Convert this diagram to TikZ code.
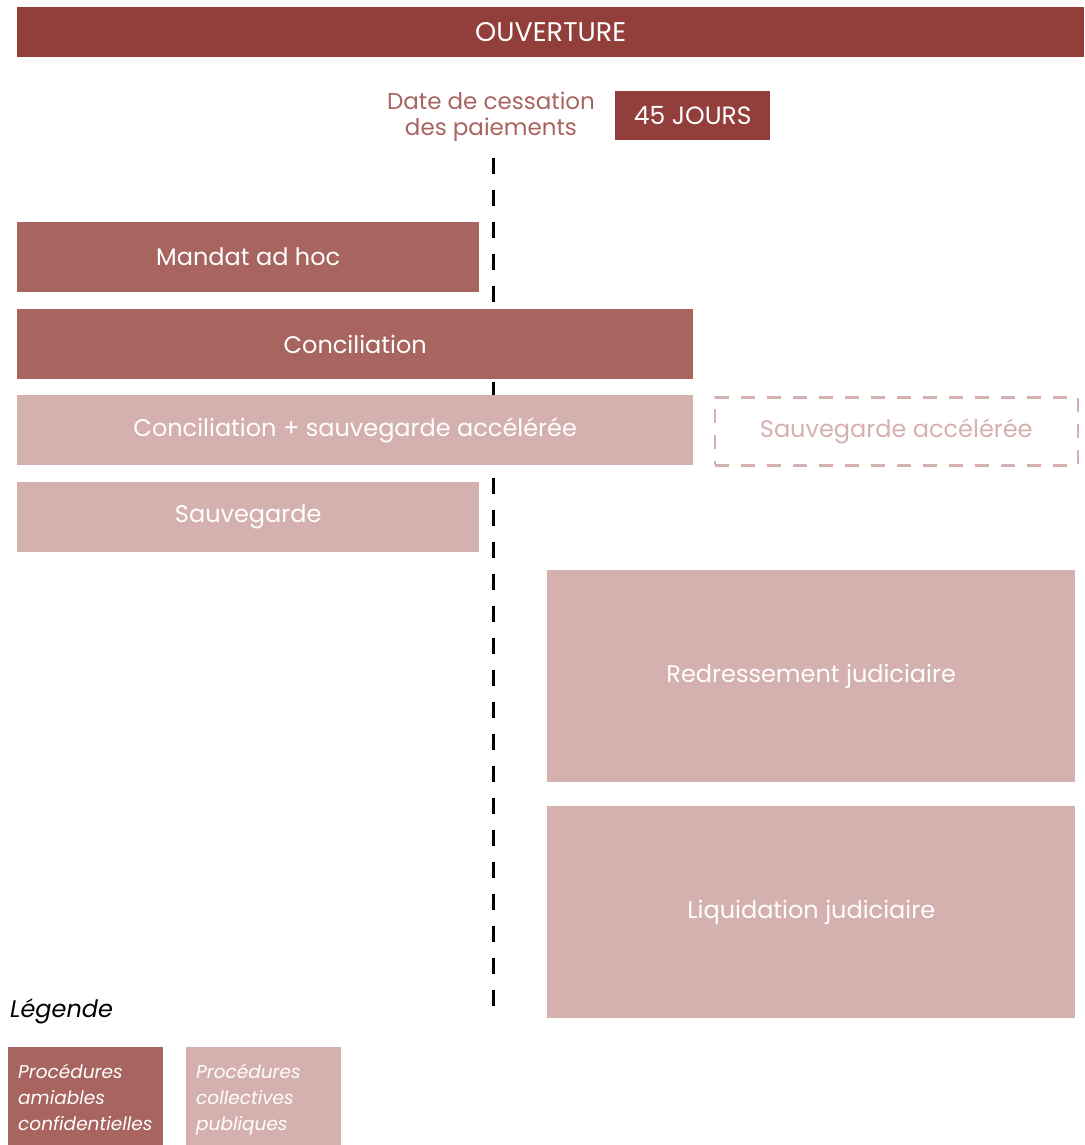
\documentclass[tikz,border=0pt]{standalone}
\usepackage{fontspec}
\setmainfont{Poppins}
\usepackage{tikz}
\definecolor{rougefonce}{HTML}{923F3C}
\definecolor{rougemoyen}{HTML}{A8645F}
\definecolor{rosepale}{HTML}{D4B0AF}
\tikzset{box/.style={anchor=north west,inner sep=0pt,text=white,font=\fontsize{24}{28}\selectfont},
	amiable/.style={box,fill=rougemoyen},
	collective/.style={box,fill=rosepale},
	legendbox/.style={anchor=north west,inner xsep=10pt,inner ysep=0pt,minimum width=155pt,minimum height=98pt,
		text=white,align=left,text width=135pt,font=\fontsize{18.5}{26}\selectfont\itshape,
		execute at begin node={\rule{0pt}{24pt}},execute at end node={\strut}},
	timeline/.style={line width=3pt,dash pattern=on 16pt off 16pt}}
\begin{document}
\begin{tikzpicture}[x=1pt,y=-1pt]
	\useasboundingbox (0,0) rectangle (1084,1145);
	% ligne de cessation des paiements
	\coordinate (top) at (493,158);
	\coordinate (bottom) at (493,1010);
	\draw[timeline] (top) -- (bottom);
	\node[box,fill=rougefonce,minimum width=1067pt,minimum height=50pt,font=\fontsize{27}{30}\selectfont] (ouverture) at (17,7) {OUVERTURE};
	\node[text=rougemoyen,align=center,font=\fontsize{23}{26}\selectfont] (cessation) at (491,117) {Date de cessation\\des paiements};
	\node[box,fill=rougefonce,minimum width=155pt,minimum height=49pt,font=\fontsize{25}{28}\selectfont] (jours) at (615,91) {45 JOURS};
	\node[amiable,minimum width=462pt,minimum height=70pt] (mandat) at (17,222) {Mandat ad hoc};
	\node[amiable,minimum width=676pt,minimum height=70pt] (conciliation) at (17,309) {Conciliation};
	\node[collective,minimum width=676pt,minimum height=70pt] (concsauv) at (17,395) {Conciliation + sauvegarde acc\'el\'er\'ee};
	\node[box,draw=rosepale,line width=2.5pt,dash pattern=on 14pt off 12pt,text=rosepale,
		minimum width=363pt,minimum height=68pt] (sauvacc) at (713.5,396) {Sauvegarde acc\'el\'er\'ee};
	\node[collective,minimum width=462pt,minimum height=70pt] (sauvegarde) at (17,482) {Sauvegarde};
	\node[collective,minimum width=528pt,minimum height=212pt] (redressement) at (547,570) {Redressement judiciaire};
	\node[collective,minimum width=528pt,minimum height=212pt] (liquidation) at (547,806) {Liquidation judiciaire};
	% l\'egende
	\node[anchor=west,inner sep=0pt,font=\fontsize{24}{28}\selectfont\itshape] (legende) at (10,1011) {L\'egende};
	\node[legendbox,fill=rougemoyen] (leg1) at (8,1047) {Proc\'edures\\amiables\\confidentielles};
	\node[legendbox,fill=rosepale] (leg2) at (186,1047) {Proc\'edures\\collectives\\publiques};
\end{tikzpicture}
\end{document}
